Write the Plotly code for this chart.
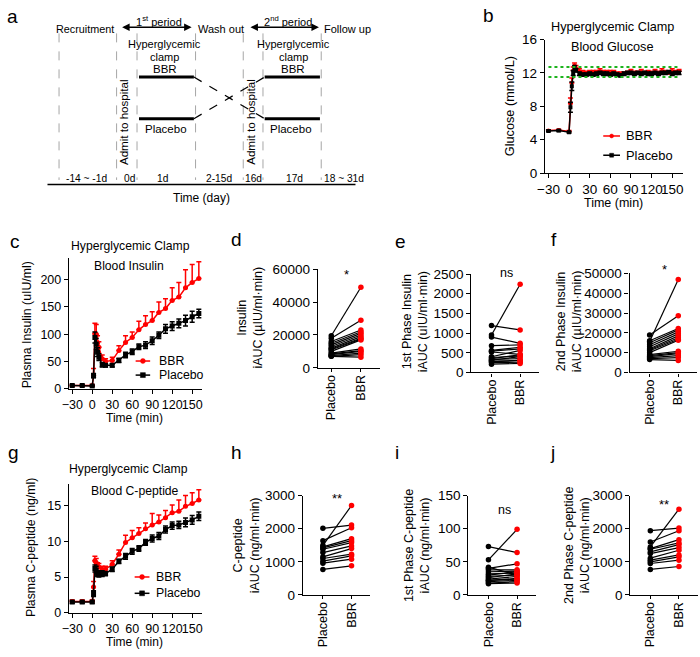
import plotly.graph_objects as go

W, H = 700, 657
FONT = "Liberation Sans, Arial, sans-serif"
RED = "#ff0000"
BLK = "#000000"

# ---------------- data ----------------
# Panel b: blood glucose (mmol/L)
t_glu = [-30, -15, 0, 2, 4, 6, 8, 10, 15, 20, 25, 30, 35, 40, 45, 50, 55, 60, 65, 70, 75, 80,
         85, 90, 95, 100, 105, 110, 115, 120, 125, 130, 135, 140, 145, 150, 155, 160]
glu_bbr = [5.1, 5.15, 5.0, 8.3, 10.8, 12.3, 12.9, 12.6, 12.2, 12.0, 11.9, 12.0, 12.1, 12.0, 12.2, 12.1,
           12.0, 12.1, 12.0, 11.9, 11.8, 11.9, 12.0, 12.1, 12.0, 12.0, 12.1, 12.0, 12.1, 12.0, 12.1,
           12.0, 12.2, 12.1, 12.0, 12.2, 12.1, 12.2]
glu_bbr_err = [0.1, 0.1, 0.1, 0.7, 0.6, 0.4, 0.3, 0.3, 0.3, 0.3, 0.3, 0.3, 0.2, 0.3, 0.3, 0.2, 0.3, 0.2,
               0.3, 0.2, 0.3, 0.2, 0.2, 0.3, 0.2, 0.2, 0.3, 0.2, 0.2, 0.2, 0.3, 0.2, 0.3, 0.2, 0.2, 0.3, 0.2, 0.2]
glu_pla = [5.05, 5.1, 4.9, 7.9, 10.4, 12.0, 12.6, 12.3, 11.9, 11.8, 11.8, 11.9, 11.8, 11.9, 12.0, 11.9,
           11.9, 11.8, 11.9, 11.8, 11.7, 11.9, 12.0, 12.0, 11.9, 12.0, 11.9, 12.0, 11.9, 11.9, 12.0,
           11.9, 12.0, 12.0, 12.1, 11.9, 12.0, 12.0]
glu_pla_err = [0.1, 0.1, 0.1, 0.6, 0.5, 0.3, 0.3, 0.2, 0.2, 0.2, 0.2, 0.2, 0.2, 0.2, 0.2, 0.2, 0.2, 0.2,
               0.2, 0.2, 0.2, 0.2, 0.2, 0.2, 0.2, 0.2, 0.2, 0.2, 0.2, 0.2, 0.2, 0.2, 0.2, 0.2, 0.2, 0.2, 0.2, 0.2]
clamp_band = [11.5, 12.7]

# Panels c, g: time points (min)
t_clamp = [-30, -15, 0, 2, 4, 6, 8, 10, 15, 20, 30, 40, 50, 60, 70, 80, 90, 100, 110, 120, 130, 140, 150, 160]
ins_bbr = [6, 6, 6, 25, 101, 100, 85, 76, 55, 50, 52, 70, 85, 94, 108, 118, 125, 140, 147, 162, 168, 185, 195, 202]
ins_bbr_err = [1, 1, 1, 12, 19, 18, 12, 10, 7, 5, 6, 9, 12, 10, 16, 16, 16, 19, 18, 23, 27, 33, 33, 31]
ins_pla = [6, 6, 5, 24, 94, 82, 67, 58, 44, 43, 43, 52, 62, 68, 77, 80, 88, 98, 110, 115, 120, 125, 132, 138]
ins_pla_err = [1, 1, 1, 4, 10, 10, 8, 6, 4, 3, 3, 4, 5, 5, 5, 6, 7, 6, 8, 8, 8, 10, 10, 8]

cp_bbr = [1.6, 1.6, 1.6, 3.6, 7.3, 7.0, 6.5, 6.4, 6.1, 6.1, 6.8, 8.2, 9.85, 10.5, 11.1, 11.75, 12.3, 12.7,
          13.3, 14.0, 14.2, 14.9, 15.3, 15.8]
cp_bbr_err = [0.2, 0.2, 0.2, 0.8, 0.6, 0.6, 0.5, 0.5, 0.4, 0.4, 0.5, 0.6, 1.0, 1.0, 0.8, 0.8, 1.6, 1.0,
              1.0, 1.1, 1.6, 1.5, 1.5, 1.4]
cp_pla = [1.5, 1.5, 1.5, 2.7, 6.2, 6.0, 5.5, 5.4, 5.5, 5.5, 6.1, 7.2, 7.9, 8.6, 9.0, 9.85, 10.4, 10.75,
          11.65, 12.2, 12.3, 12.65, 13.0, 13.5]
cp_pla_err = [0.15, 0.15, 0.15, 0.4, 0.5, 0.5, 0.4, 0.4, 0.4, 0.3, 0.3, 0.3, 0.4, 0.4, 0.4, 0.4, 0.5, 0.5,
              0.5, 0.5, 0.5, 0.6, 0.6, 0.6]

# Paired panels (Placebo, BBR)
groups = ["Placebo", "BBR"]
d_pla = [19500, 18000, 16000, 15000, 14000, 13000, 12000, 11500, 11000, 10000, 9000, 8500, 8000, 7500, 7000, 7000]
d_bbr = [49000, 29000, 23000, 22000, 21000, 20000, 19000, 18000, 17500, 17000, 11500, 10500, 10000, 9000, 8000, 6500]
e_pla = [1190, 950, 900, 680, 560, 540, 520, 400, 380, 350, 330, 310, 290, 270, 250, 210]
e_bbr = [1080, 2240, 740, 700, 640, 600, 460, 560, 420, 450, 350, 400, 300, 310, 260, 230]
f_pla = [18900, 15600, 16000, 15000, 14000, 13000, 12000, 11500, 11000, 10000, 9000, 8500, 8000, 7500, 7000, 6500]
f_bbr = [28600, 46900, 22200, 21500, 20500, 19500, 18500, 17500, 16800, 16300, 10700, 10000, 9500, 8500, 7500, 6100]
h_pla = [2010, 1500, 1640, 1450, 1420, 1380, 1280, 1150, 1100, 1020, 960, 770]
h_bbr = [2110, 2700, 2030, 1700, 1640, 1580, 1480, 1400, 1230, 1180, 1080, 880]
i_pla = [73, 53, 42, 40, 38, 35, 32, 30, 28, 26, 24, 22, 20, 18, 17, 22]
i_bbr = [64, 99, 30, 47, 38, 36, 33, 35, 30, 32, 28, 24, 22, 20, 18, 25]
j_pla = [1940, 1450, 1600, 1400, 1380, 1300, 1250, 1110, 1050, 1000, 950, 770]
j_bbr = [2020, 2590, 1940, 1670, 1570, 1520, 1430, 1350, 1210, 1150, 1050, 860]

time_ticks = [-30, 0, 30, 60, 90, 120, 150]

# Panel a schematic text
period_days = ["-14 ~ -1d", "0d", "1d", "2-15d", "16d", "17d", "18 ~ 31d"]

# ---------------- helpers ----------------
ROT_DX = -6  # compensation for rotated-text placement

def px(x):
    return x / W

def py(y):
    return 1 - y / H

def ann(text, x, y, size=12, xanchor="center", yanchor="middle", angle=0, color=BLK):
    if angle:
        x = x + ROT_DX
    return dict(text=text, x=px(x), y=py(y), xref="paper", yref="paper", showarrow=False,
                font=dict(size=size, family=FONT, color=color), xanchor=xanchor, yanchor=yanchor,
                textangle=angle)

def axstyle(dom, rng, tickvals=None, ticktext=None, fs=12, angle=0, anchor=None, ticklen=4, standoff=None):
    d = dict(domain=dom, range=rng, showline=True, linewidth=1.3, linecolor=BLK, ticks="outside",
             ticklen=ticklen, tickwidth=1.3, tickcolor=BLK, showgrid=False, zeroline=False,
             tickfont=dict(size=fs, family=FONT, color=BLK), anchor=anchor, fixedrange=True,
             tickangle=angle, tickformat="d")
    if tickvals is not None:
        d["tickmode"] = "array"
        d["tickvals"] = tickvals
    if ticktext is not None:
        d["ticktext"] = ticktext
        d.pop("tickformat")
    if standoff is not None:
        d["ticklabelstandoff"] = standoff
    return d

fig = go.Figure()
layout = dict(width=W, height=H, margin=dict(l=0, r=0, t=0, b=0), plot_bgcolor="white",
              paper_bgcolor="white", showlegend=False, font=dict(family=FONT, color=BLK))
annotations = []
shapes = []

# ---------------- time course panels ----------------
def time_panel(idx, xdom, ydom, yrng, ytick, tbbr, bbr, bbr_err, tpla, pla, pla_err, fs, msize):
    xa = "xaxis" if idx == 1 else f"xaxis{idx}"
    ya = "yaxis" if idx == 1 else f"yaxis{idx}"
    xr = "x" if idx == 1 else f"x{idx}"
    yr = "y" if idx == 1 else f"y{idx}"
    layout[xa] = axstyle([px(xdom[0]), px(xdom[1])], [-35, 165], time_ticks, fs=fs, anchor=yr)
    layout[ya] = axstyle([py(ydom[1]), py(ydom[0])], yrng, ytick, fs=fs, anchor=xr)
    fig.add_trace(go.Scatter(x=tbbr, y=bbr, xaxis=xr, yaxis=yr, mode="lines+markers",
                             line=dict(color=RED, width=1.5),
                             marker=dict(color=RED, size=msize, symbol="circle"),
                             error_y=dict(type="data", array=bbr_err, arrayminus=[0] * len(bbr_err),
                                          symmetric=False, color=RED, thickness=1.5, width=2.5)))
    fig.add_trace(go.Scatter(x=tpla, y=pla, xaxis=xr, yaxis=yr, mode="lines+markers",
                             line=dict(color=BLK, width=1.5),
                             marker=dict(color=BLK, size=msize, symbol="square"),
                             error_y=dict(type="data", array=pla_err, color=BLK, thickness=1.5, width=2.5)))

# b
time_panel(1, (544, 683.3), (33.3, 170), [0, 16], [0, 4, 8, 12, 16], t_glu, glu_bbr, glu_bbr_err,
           t_glu, glu_pla, glu_pla_err, 13.5, 4)
# c
time_panel(2, (61.7, 196.7), (256.7, 390.7), [0, 240], [0, 50, 100, 150, 200], t_clamp, ins_bbr,
           ins_bbr_err, t_clamp, ins_pla, ins_pla_err, 12.5, 5)
# g
time_panel(3, (61.7, 196.7), (488.3, 620), [0, 18], [0, 5, 10, 15], t_clamp, cp_bbr, cp_bbr_err,
           t_clamp, cp_pla, cp_pla_err, 12.5, 5)

for yv in clamp_band:
    shapes.append(dict(type="line", xref="x", yref="y", x0=-30, x1=160, y0=yv, y1=yv,
                       line=dict(color="#1db31d", width=2, dash="dot")))

# ---------------- paired panels ----------------
def pair_panel(idx, xleft, ydom, yrng, ytick, pla, bbr, xstart=-0.7, unit=29.0, xend=1.65):
    xa, ya = f"xaxis{idx}", f"yaxis{idx}"
    xr, yr = f"x{idx}", f"y{idx}"
    layout[xa] = axstyle([px(xleft), px(xleft + (xend - xstart) * unit)], [xstart, xend], [0, 1], groups,
                         fs=12.5, angle=-90, anchor=yr, ticklen=3, standoff=-2)
    layout[ya] = axstyle([py(ydom[1]), py(ydom[0])], yrng, ytick, fs=13.5, anchor=xr)
    xs, ys, cols = [], [], []
    for p, b in zip(pla, bbr):
        xs += [0, 1, None]
        ys += [p, b, None]
        cols += [BLK, RED, BLK]
    fig.add_trace(go.Scatter(x=xs, y=ys, xaxis=xr, yaxis=yr, mode="lines+markers",
                             line=dict(color=BLK, width=1.2), connectgaps=False,
                             marker=dict(color=cols, size=5.5)))

pair_panel(4, 314, (268.3, 369.3), [0, 60000], [0, 20000, 40000, 60000], d_pla, d_bbr,
           xstart=-0.45, unit=30.0)
pair_panel(5, 469.5, (273.3, 374), [0, 2500], [0, 500, 1000, 1500, 2000, 2500], e_pla, e_bbr)
pair_panel(6, 629.7, (272.7, 374), [0, 50000], [0, 10000, 20000, 30000, 40000, 50000], f_pla, f_bbr)
pair_panel(7, 298.7, (500, 601.7), [0, 3000], [0, 1000, 2000, 3000], h_pla, h_bbr)
pair_panel(8, 466.4, (500, 601.7), [0, 150], [0, 50, 100, 150], i_pla, i_bbr)
pair_panel(9, 630.4, (500, 601.7), [0, 3000], [0, 1000, 2000, 3000], j_pla, j_bbr)

# ---------------- text: titles, axis titles, panel letters ----------------
for letter, x, y in [("a", 5, 10), ("b", 487, 9), ("c", 7, 240), ("d", 231, 238), ("e", 398, 240),
                     ("f", 553, 238), ("g", 6, 456), ("h", 231, 456), ("i", 394, 456), ("j", 552, 456)]:
    annotations.append(ann(letter, x, y, size=19))

annotations += [
    ann("Hyperglycemic Clamp", 612, 20, 12.7), ann("Blood Glucose", 612, 41, 12.7),
    ann("Hyperglycemic Clamp", 124, 245, 12.2), ann("Blood Insulin", 123, 265, 12.2),
    ann("Hyperglycemic Clamp", 122, 473, 12.2), ann("Blood C-peptide", 129, 495, 12.2),
    ann("Glucose (mmol/L)", 514, 101, 12.7, angle=-90),
    ann("Time (min)", 613, 201, 12.5),
    ann("Plasma Insulin (uIU/ml)", 25, 325, 12.3, angle=-90),
    ann("Time (min)", 128, 421, 12),
    ann("Plasma C-peptide (ng/ml)", 30, 553, 12.3, angle=-90),
    ann("Time (min)", 128, 650, 12),
    ann("Insulin<br>iAUC (µIU/ml·min)", 251, 318, 12.5, angle=-90),
    ann("1st Phase Insulin<br>iAUC (uIU/ml·min)", 418, 322, 12.5, angle=-90),
    ann("2nd Phase Insulin<br>iAUC (µIU/ml·min)", 574, 322, 12.5, angle=-90),
    ann("C-peptide<br>iAUC (ng/ml·min)", 248, 551, 12.5, angle=-90),
    ann("1st Phase C-peptide<br>iAUC (ng/ml·min)", 421, 551, 12.5, angle=-90),
    ann("2nd Phase C-peptide<br>iAUC (ng/ml·min)", 583, 551, 12.5, angle=-90),
    ann("*", 343, 274, 13), ann("ns", 505, 272, 12.5), ann("*", 665, 269, 13),
    ann("**", 333, 503, 13), ann("ns", 503, 515, 12.5), ann("**", 665, 509, 13),
]

# ---------------- manual legends ----------------
def legend(x0, x1, ytop, ybot, xtext, fs, r):
    for yy, col, sym, name in [(ytop, RED, "circle", "BBR"), (ybot, BLK, "square", "Placebo")]:
        shapes.append(dict(type="line", xref="paper", yref="paper", x0=px(x0), x1=px(x1), y0=py(yy), y1=py(yy),
                           line=dict(color=col, width=1.5)))
        cx = (x0 + x1) / 2
        shapes.append(dict(type="circle" if sym == "circle" else "rect", xref="paper", yref="paper",
                           x0=px(cx - r), x1=px(cx + r), y0=py(yy + r), y1=py(yy - r),
                           fillcolor=col, line=dict(color=col, width=0.5)))
        annotations.append(ann(name, xtext, yy, fs, xanchor="left"))

legend(603, 620, 132, 151.7, 624, 12.9, 2)
legend(129.3, 144, 362.3, 376.7, 151, 12.3, 2.5)
legend(128.3, 143.3, 583.3, 600, 148, 12.3, 2.5)

# ---------------- panel a schematic ----------------
vlines = [51.7, 110, 130.7, 190, 238.3, 258.3, 317.3]
for xv in vlines:
    shapes.append(dict(type="line", xref="paper", yref="paper", x0=px(xv), x1=px(xv), y0=py(27), y1=py(177),
                       line=dict(color="#a6a6a6", width=1, dash="dash")))
shapes.append(dict(type="line", xref="paper", yref="paper", x0=px(40), x1=px(352), y0=py(181.7), y1=py(181.7),
                   line=dict(color=BLK, width=1.6)))
for xa0, xa1 in [(132.7, 188.3), (260, 316)]:
    for yy in (71.7, 114.3):
        shapes.append(dict(type="line", xref="paper", yref="paper", x0=px(xa0), x1=px(xa1), y0=py(yy), y1=py(yy),
                           line=dict(color=BLK, width=3)))
shapes.append(dict(type="line", xref="paper", yref="paper", x0=px(188.3), x1=px(260), y0=py(71.7), y1=py(114.3),
                   line=dict(color=BLK, width=1.2, dash="dash")))
shapes.append(dict(type="line", xref="paper", yref="paper", x0=px(188.3), x1=px(260), y0=py(114.3), y1=py(71.7),
                   line=dict(color=BLK, width=1.2, dash="dash")))
for xa0, xa1 in [(115, 186), (245, 315)]:
    annotations.append(dict(x=px(xa1), y=py(20.7), ax=xa0 - xa1, ay=0, xref="paper", yref="paper",
                            axref="pixel", ayref="pixel", showarrow=True, arrowhead=2, startarrowhead=2,
                            arrowside="end+start", arrowsize=1, arrowwidth=1.5, arrowcolor=BLK, text=""))

annotations += [
    ann("Recruitment", 78, 22.7, 10.8),
    ann("1<sup>st</sup> period", 152.5, 14, 11),
    ann("Wash out", 215.5, 22.7, 11),
    ann("2<sup>nd</sup> period", 284, 14, 11),
    ann("Follow up", 318.5, 22.7, 11, xanchor="left"),
    ann("Hyperglycemic", 158.7, 37.7, 11), ann("clamp", 158.7, 50.7, 11), ann("BBR", 158.7, 63.3, 11.5),
    ann("Hyperglycemic", 289, 37.7, 11), ann("clamp", 289, 50.7, 11), ann("BBR", 289, 63.3, 11.5),
    ann("Placebo", 160, 125, 11.5), ann("Placebo", 287, 125, 11.5),
    ann("Admit to hospital", 123.3, 118, 11.6, angle=-90),
    ann("Admit to hospital", 251.7, 118, 11.6, angle=-90),
    ann("Time (day)", 196, 195, 12),
]
day_x = [80, 123.3, 156.7, 214, 248.3, 290, 340]
for lab, xv in zip(period_days, day_x):
    annotations.append(ann(lab, xv, 176, 10.2))

layout["annotations"] = annotations
layout["shapes"] = shapes
fig.update_layout(**layout)
fig.write_html("out.html", config={"displayModeBar": False},
               post_script="document.body.style.margin='0';document.body.style.overflow='hidden';")
